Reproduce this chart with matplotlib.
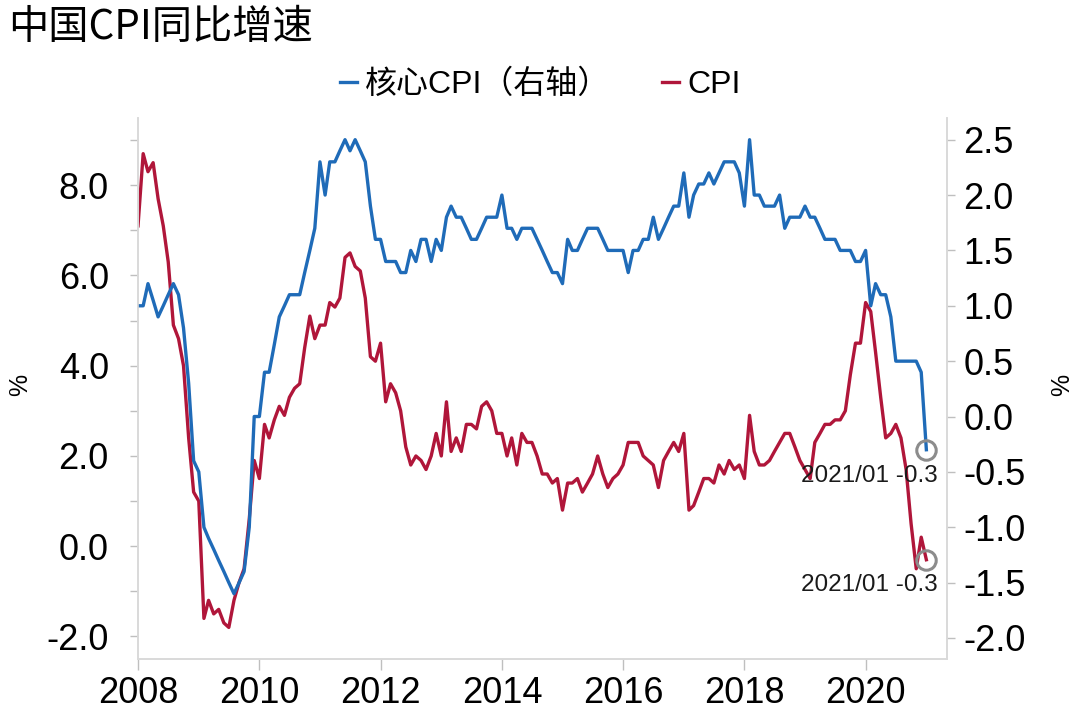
import matplotlib
matplotlib.use("Agg")
import matplotlib.pyplot as plt
import matplotlib.dates as mdates
import pandas as pd

# monthly, 2008/01 - 2021/01
months = pd.date_range("2008-01-01", "2021-01-01", freq="MS")

cpi = [
    7.1, 8.7, 8.3, 8.5, 7.7, 7.1, 6.3, 4.9, 4.6, 4.0, 2.4, 1.2,      # 2008
    1.0, -1.6, -1.2, -1.5, -1.4, -1.7, -1.8, -1.2, -0.8, -0.5, 0.6, 1.9,  # 2009
    1.5, 2.7, 2.4, 2.8, 3.1, 2.9, 3.3, 3.5, 3.6, 4.4, 5.1, 4.6,      # 2010
    4.9, 4.9, 5.4, 5.3, 5.5, 6.4, 6.5, 6.2, 6.1, 5.5, 4.2, 4.1,      # 2011
    4.5, 3.2, 3.6, 3.4, 3.0, 2.2, 1.8, 2.0, 1.9, 1.7, 2.0, 2.5,      # 2012
    2.0, 3.2, 2.1, 2.4, 2.1, 2.7, 2.7, 2.6, 3.1, 3.2, 3.0, 2.5,      # 2013
    2.5, 2.0, 2.4, 1.8, 2.5, 2.3, 2.3, 2.0, 1.6, 1.6, 1.4, 1.5,      # 2014
    0.8, 1.4, 1.4, 1.5, 1.2, 1.4, 1.6, 2.0, 1.6, 1.3, 1.5, 1.6,      # 2015
    1.8, 2.3, 2.3, 2.3, 2.0, 1.9, 1.8, 1.3, 1.9, 2.1, 2.3, 2.1,      # 2016
    2.5, 0.8, 0.9, 1.2, 1.5, 1.5, 1.4, 1.8, 1.6, 1.9, 1.7, 1.8,      # 2017
    1.5, 2.9, 2.1, 1.8, 1.8, 1.9, 2.1, 2.3, 2.5, 2.5, 2.2, 1.9,      # 2018
    1.7, 1.5, 2.3, 2.5, 2.7, 2.7, 2.8, 2.8, 3.0, 3.8, 4.5, 4.5,      # 2019
    5.4, 5.2, 4.3, 3.3, 2.4, 2.5, 2.7, 2.4, 1.7, 0.5, -0.5, 0.2,     # 2020
    -0.3,                                                            # 2021
]

core_cpi = [
    1.0, 1.0, 1.2, 1.05, 0.9, 1.0, 1.1, 1.2, 1.1, 0.8, 0.3, -0.4,    # 2008
    -0.5, -1.0, -1.1, -1.2, -1.3, -1.4, -1.5, -1.6, -1.5, -1.4, -1.0, 0.0,  # 2009
    0.0, 0.4, 0.4, 0.65, 0.9, 1.0, 1.1, 1.1, 1.1, 1.3, 1.5, 1.7,     # 2010
    2.3, 2.0, 2.3, 2.3, 2.4, 2.5, 2.4, 2.5, 2.4, 2.3, 1.9, 1.6,      # 2011
    1.6, 1.4, 1.4, 1.4, 1.3, 1.3, 1.5, 1.4, 1.6, 1.6, 1.4, 1.6,      # 2012
    1.5, 1.8, 1.9, 1.8, 1.8, 1.7, 1.6, 1.6, 1.7, 1.8, 1.8, 1.8,      # 2013
    2.0, 1.7, 1.7, 1.6, 1.7, 1.7, 1.7, 1.6, 1.5, 1.4, 1.3, 1.3,      # 2014
    1.2, 1.6, 1.5, 1.5, 1.6, 1.7, 1.7, 1.7, 1.6, 1.5, 1.5, 1.5,      # 2015
    1.5, 1.3, 1.5, 1.5, 1.6, 1.6, 1.8, 1.6, 1.7, 1.8, 1.9, 1.9,      # 2016
    2.2, 1.8, 2.0, 2.1, 2.1, 2.2, 2.1, 2.2, 2.3, 2.3, 2.3, 2.2,      # 2017
    1.9, 2.5, 2.0, 2.0, 1.9, 1.9, 1.9, 2.0, 1.7, 1.8, 1.8, 1.8,      # 2018
    1.9, 1.8, 1.8, 1.7, 1.6, 1.6, 1.6, 1.5, 1.5, 1.5, 1.4, 1.4,      # 2019
    1.5, 1.0, 1.2, 1.1, 1.1, 0.9, 0.5, 0.5, 0.5, 0.5, 0.5, 0.4,      # 2020
    -0.3,                                                            # 2021
]

blue = "#1f6bb8"
red = "#b0163a"
grid_grey = "#d9d9d9"

plt.rcParams["font.family"] = ["Liberation Sans", "Noto Sans CJK SC", "DejaVu Sans"]

fig = plt.figure(figsize=(10.8, 7.09), dpi=100)
ax = fig.add_axes([0.1278, 0.0705, 0.749, 0.7637])
ax2 = ax.twinx()

l_cpi, = ax.plot(months, cpi, color=red, lw=2.4, label="CPI")
l_core, = ax2.plot(months, core_cpi, color=blue, lw=2.4, label="核心CPI（右轴）")

# end markers + labels
ax.plot(months[-1:], cpi[-1:], "o", ms=14, mfc="none", mec="#8c8c8c", mew=2.2)
ax2.plot(months[-1:], core_cpi[-1:], "o", ms=14, mfc="none", mec="#8c8c8c", mew=2.2)
ax.annotate("2021/01 %.1f" % cpi[-1], (months[-1], cpi[-1]), xytext=(8, -18),
            textcoords="offset points", ha="right", va="center", fontsize=17.5, color="#1a1a1a")
ax2.annotate("2021/01 %.1f" % core_cpi[-1], (months[-1], core_cpi[-1]), xytext=(8, -19),
             textcoords="offset points", ha="right", va="center", fontsize=17.5, color="#1a1a1a")

ax.set_xlim(pd.Timestamp("2008-01-01"), pd.Timestamp("2021-05-05"))
ax.set_ylim(-2.5, 9.5)
ax2.set_ylim(-2.19, 2.70)

ax.xaxis.set_major_locator(mdates.YearLocator(2))
ax.xaxis.set_major_formatter(mdates.DateFormatter("%Y"))
ax.set_yticks([-2, 0, 2, 4, 6, 8])
ax.set_yticklabels(["-2.0", "0.0", "2.0", "4.0", "6.0", "8.0"])
ax.set_yticks([-1, 1, 3, 5, 7, 9], minor=True)
rt = [-2.0, -1.5, -1.0, -0.5, 0.0, 0.5, 1.0, 1.5, 2.0, 2.5]
ax2.set_yticks(rt)
ax2.set_yticklabels(["%.1f" % v for v in rt])

for a in (ax, ax2):
    for s in a.spines.values():
        s.set_color(grid_grey)
        s.set_linewidth(1.2)
    a.spines["top"].set_visible(False)

ax.tick_params(axis="y", which="both", direction="out", length=6, width=1, color="#bfbfbf",
               labelsize=26, pad=15)
ax.tick_params(axis="x", direction="out", length=8, width=1, color="#bfbfbf", labelsize=26, pad=4)
ax2.tick_params(axis="y", direction="out", length=6, width=1, color="#bfbfbf", labelsize=26, pad=6)

fig.text(8 / 1080, 1 - 28 / 709, "中国CPI同比增速", fontsize=29, ha="left", va="center",
         family=["Noto Sans CJK SC"])
fig.text(20 / 1080, 1 - 385 / 709, "%", rotation=90, fontsize=18, ha="center", va="center")
fig.text(1062 / 1080, 1 - 385 / 709, "%", rotation=90, fontsize=18, ha="center", va="center")

fig.legend([l_core, l_cpi], ["核心CPI（右轴）", "CPI"], loc="center",
           bbox_to_anchor=(0.5, 1 - 85 / 709), ncol=2, frameon=False, fontsize=23,
           handlelength=0.55, handletextpad=0.25, columnspacing=1.6)

fig.savefig("out.png", dpi=100)
